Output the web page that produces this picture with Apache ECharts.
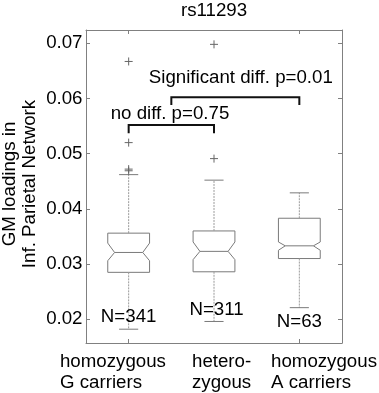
<!DOCTYPE html>
<html>
<head>
<meta charset="utf-8">
<title>rs11293</title>
<script src="https://cdn.jsdelivr.net/npm/echarts@6/dist/echarts.min.js"></script>
<style>
  html, body { margin: 0; padding: 0; background: #fff; }
  #chart { width: 379px; height: 393px; }
</style>
</head>
<body>
<div id="chart"></div>
<script>
// genotype groups
const categories = ['homozygous\nG carriers', 'hetero-\nzygous', 'homozygous\nA carriers'];
const whiskerLow = [0.0182, 0.0196, 0.0221];
const q1 = [0.0285, 0.0286, 0.0310];
const notchLow = [0.0306, 0.0308, 0.0325];
const median = [0.0321, 0.0323, 0.0333];
const notchHigh = [0.0338, 0.0340, 0.0340];
const q3 = [0.0356, 0.0360, 0.0383];
const whiskerHigh = [0.0462, 0.0452, 0.0429];
// [group index, value]
const outliers = [[0, 0.0667], [0, 0.0520], [0, 0.0472], [0, 0.0469], [1, 0.0698], [1, 0.0491]];
const sampleSizes = ['N=341', 'N=311', 'N=63'];
const comparisons = ['no diff. p=0.75', 'Significant diff. p=0.01'];
const yTicks = [0.02, 0.03, 0.04, 0.05, 0.06, 0.07];

// layout (group index / axis value)
const bracketLayout = [
  {from: 0, to: 1, top: 0.0552, leg: 0.0537, tx: 0.484, ty: 0.0572},
  {from: 0.5, to: 2, top: 0.0602, leg: 0.0588, tx: 1.314, ty: 0.0638}
];
const nLabelLayout = [[0, 0.0205], [1.03, 0.0217], [2, 0.0196]];
const catLabelShift = [-68.7, -22, -28.3];

const font = 'Liberation Sans, Arial, sans-serif';
const fs = 18.7;
const frame = '#808080';
const boxColor = '#7a7a7a';

const chart = echarts.init(document.getElementById('chart'));

function xAt(api, v) {
  const p0 = api.coord([0, yTicks[0]])[0];
  const p1 = api.coord([1, yTicks[0]])[0];
  return p0 + v * (p1 - p0);
}

function renderBox(params, api) {
  const i = params.dataIndex;
  const band = api.size([1, 0])[0];
  const x = api.coord([i, median[i]])[0];
  const py = v => api.coord([i, v])[1];
  const hw = band * 0.245, nw = band * 0.08, cw = band * 0.112;
  const yQ3 = py(q3[i]), yNh = py(notchHigh[i]), yMed = py(median[i]);
  const yNl = py(notchLow[i]), yQ1 = py(q1[i]);
  const yHi = py(whiskerHigh[i]), yLo = py(whiskerLow[i]);
  const solid = {stroke: boxColor, lineWidth: 1, fill: 'none'};
  const dashed = {stroke: '#9a9a9a', lineWidth: 1, lineDash: [2, 1]};
  return {
    type: 'group',
    children: [
      {type: 'polygon', shape: {points: [
        [x - hw, yQ3], [x + hw, yQ3], [x + hw, yNh], [x + hw - nw, yMed], [x + hw, yNl],
        [x + hw, yQ1], [x - hw, yQ1], [x - hw, yNl], [x - hw + nw, yMed], [x - hw, yNh]
      ]}, style: solid},
      {type: 'line', shape: {x1: x - hw + nw, y1: yMed, x2: x + hw - nw, y2: yMed}, style: solid},
      {type: 'line', shape: {x1: x, y1: yQ3, x2: x, y2: yHi}, style: dashed},
      {type: 'line', shape: {x1: x, y1: yQ1, x2: x, y2: yLo}, style: dashed},
      {type: 'line', shape: {x1: x - cw, y1: yHi, x2: x + cw, y2: yHi}, style: solid},
      {type: 'line', shape: {x1: x - cw, y1: yLo, x2: x + cw, y2: yLo}, style: solid}
    ]
  };
}

function renderOutlier(params, api) {
  const p = api.coord([api.value(0), api.value(1)]);
  const s = 4;
  const st = {stroke: '#666', lineWidth: 1};
  return {
    type: 'group',
    children: [
      {type: 'line', shape: {x1: p[0] - s, y1: p[1], x2: p[0] + s, y2: p[1]}, style: st},
      {type: 'line', shape: {x1: p[0], y1: p[1] - s, x2: p[0], y2: p[1] + s}, style: st}
    ]
  };
}

function renderNotes(params, api) {
  const children = [];
  const txt = (x, y, text, align) => ({
    type: 'text', x: x, y: y,
    style: {text: text, fill: '#000', font: fs + 'px ' + font, align: align || 'center',
            verticalAlign: 'middle', lineHeight: 21}
  });
  bracketLayout.forEach((b, k) => {
    const x0 = xAt(api, b.from), x1 = xAt(api, b.to);
    const yt = api.coord([0, b.top])[1], yl = api.coord([0, b.leg])[1];
    children.push({type: 'polyline', shape: {points: [[x0, yl], [x0, yt], [x1, yt], [x1, yl]]},
      style: {stroke: '#111', lineWidth: 2, fill: 'none'}});
    children.push(txt(xAt(api, b.tx), api.coord([0, b.ty])[1], comparisons[k]));
  });
  nLabelLayout.forEach((p, k) => {
    children.push(txt(xAt(api, p[0]), api.coord([0, p[1]])[1], sampleSizes[k]));
  });
  const yBottom = api.coord([0, 0.0157])[1];
  categories.forEach((c, k) => {
    children.push(txt(xAt(api, k) + catLabelShift[k], yBottom + 29, c, 'left'));
  });
  return {type: 'group', children: children};
}

const axisCommon = {
  axisLine: {show: true, onZero: false, lineStyle: {color: frame, width: 1}},
  axisTick: {show: true, inside: true, length: 4, lineStyle: {color: frame}},
  splitLine: {show: false}
};

chart.setOption({
  animation: false,
  title: {
    text: 'rs11293', left: 214, top: 1, textAlign: 'center', padding: 0,
    textStyle: {fontSize: fs, fontWeight: 'normal', color: '#000', fontFamily: font}
  },
  grid: {left: 86, right: 37, top: 30, bottom: 50},
  xAxis: [
    Object.assign({type: 'category', data: categories, position: 'bottom',
      axisLabel: {show: false}}, axisCommon,
      {axisTick: Object.assign({}, axisCommon.axisTick, {alignWithLabel: true})}),
    Object.assign({type: 'category', data: categories, position: 'top',
      axisLabel: {show: false}}, axisCommon,
      {axisTick: Object.assign({}, axisCommon.axisTick, {alignWithLabel: true})})
  ],
  yAxis: [
    Object.assign({type: 'value', min: 0.0157, max: 0.0724, splitNumber: 5,
      axisLabel: {
        color: '#000', fontSize: fs, fontFamily: font, margin: 3.5,
        formatter: v => yTicks.some(t => Math.abs(t - v) < 1e-9) ? v.toFixed(2) : ''
      }}, axisCommon),
    Object.assign({type: 'value', min: 0.0157, max: 0.0724, splitNumber: 5, position: 'right',
      axisLabel: {show: false}}, axisCommon)
  ],
  graphic: [{
    type: 'text', x: 20, y: 184, rotation: Math.PI / 2,
    style: {text: 'GM loadings in\nInf. Parietal Network', fill: '#000',
            font: fs + 'px ' + font, align: 'center', verticalAlign: 'middle', lineHeight: 20}
  }],
  series: [
    {
      type: 'custom',
      renderItem: renderBox,
      encode: {x: 0, y: [1, 2, 3, 4, 5]},
      data: categories.map((c, i) => [i, whiskerLow[i], q1[i], median[i], q3[i], whiskerHigh[i]]),
      silent: true
    },
    {
      type: 'custom',
      renderItem: renderOutlier,
      encode: {x: 0, y: 1},
      data: outliers,
      silent: true
    },
    {
      type: 'custom',
      renderItem: renderNotes,
      encode: {x: 0, y: 1},
      data: [[0, median[0]]],
      clip: false,
      silent: true
    }
  ]
});
window.addEventListener('resize', chart.resize);
</script>
</body>
</html>
